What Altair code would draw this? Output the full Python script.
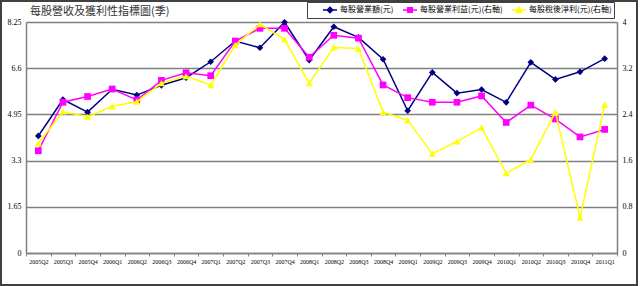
import altair as alt
import pandas as pd

quarters = ["2005Q2", "2005Q3", "2005Q4", "2006Q1", "2006Q2", "2006Q3", "2006Q4",
            "2007Q1", "2007Q2", "2007Q3", "2007Q4", "2008Q1", "2008Q2", "2008Q3",
            "2008Q4", "2009Q1", "2009Q2", "2009Q3", "2009Q4", "2010Q1", "2010Q2",
            "2010Q3", "2010Q4", "2011Q1"]
revenue = [4.18, 5.48, 5.03, 5.85, 5.64, 5.99, 6.26, 6.83, 7.57, 7.33, 8.24, 6.89,
           8.08, 7.70, 6.92, 5.08, 6.45, 5.71, 5.84, 5.38, 6.81, 6.20, 6.47, 6.94]
op_income = [1.77, 2.61, 2.71, 2.84, 2.65, 2.99, 3.12, 3.07, 3.67, 3.89, 3.89, 3.39,
             3.77, 3.72, 2.91, 2.69, 2.61, 2.61, 2.72, 2.26, 2.56, 2.32, 2.01, 2.14]
net_income = [1.90, 2.45, 2.36, 2.54, 2.62, 2.94, 3.06, 2.91, 3.60, 3.96, 3.70, 2.94,
              3.56, 3.54, 2.44, 2.30, 1.72, 1.93, 2.17, 1.38, 1.62, 2.44, 0.61, 2.57]
series_names = ["每股營業額(元)", "每股營業利益(元)(右軸)", "每股稅後淨利(元)(右軸)"]
series_colors = ["#000080", "#FF00FF", "#FFFF00"]
left_ticks = [0, 1.65, 3.3, 4.95, 6.6, 8.25]
right_ticks = [0, 0.8, 1.6, 2.4, 3.2, 4]

df = pd.DataFrame({"quarter": quarters, "revenue": revenue,
                   "op": op_income, "net": net_income})

GRID = "#808080"
x_enc = alt.X("quarter:N", sort=quarters,
              scale=alt.Scale(type="band", paddingInner=0, paddingOuter=0),
              axis=alt.Axis(title=None, labelAngle=0, labelFontSize=6,
                            labelFont="Liberation Serif", labelColor="#000000",
                            tickBand="extent", tickSize=3, tickColor=GRID,
                            domainColor=GRID, domainWidth=1.5, labelPadding=2,
                            grid=False))

left_axis = alt.Axis(title=None, values=left_ticks, labelExpr="datum.value + ''",
                     grid=True, gridColor=GRID, gridWidth=1.5, tickSize=0,
                     labelPadding=5, labelFontSize=8, labelFont="Liberation Serif",
                     labelColor="#000000", domainColor=GRID, domainWidth=1.5)
right_axis = alt.Axis(title=None, orient="right", values=right_ticks,
                      labelExpr="datum.value + ''", grid=False, tickSize=0,
                      labelPadding=5, labelFontSize=8, labelFont="Liberation Serif",
                      labelColor="#000000", domainColor=GRID, domainWidth=1.5)
left_scale = alt.Scale(domain=[0, 8.25], nice=False, zero=True)
right_scale = alt.Scale(domain=[0, 4], nice=False, zero=True)

base = alt.Chart(df)

navy_line = base.mark_line(color=series_colors[0], strokeWidth=1.5).encode(
    x=x_enc, y=alt.Y("revenue:Q", scale=left_scale, axis=left_axis))
navy_pts = base.mark_point(shape="diamond", filled=True, size=45, opacity=1,
                           color=series_colors[0]).encode(
    x=x_enc, y=alt.Y("revenue:Q", scale=left_scale, axis=left_axis))
left_layer = alt.layer(navy_line, navy_pts)

mag_line = base.mark_line(color=series_colors[1], strokeWidth=1.5).encode(
    x=x_enc, y=alt.Y("op:Q", scale=right_scale, axis=right_axis))
mag_pts = base.mark_point(shape="square", filled=True, size=45, opacity=1,
                          color=series_colors[1]).encode(
    x=x_enc, y=alt.Y("op:Q", scale=right_scale, axis=right_axis))
yel_line = base.mark_line(color=series_colors[2], strokeWidth=1.5).encode(
    x=x_enc, y=alt.Y("net:Q", scale=right_scale, axis=right_axis))
yel_pts = base.mark_point(shape="triangle-up", filled=True, size=50, opacity=1,
                          color=series_colors[2]).encode(
    x=x_enc, y=alt.Y("net:Q", scale=right_scale, axis=right_axis))
right_layer = alt.layer(mag_line, mag_pts, yel_line, yel_pts)

legend_paths = [
    "M-1.4,0L1.4,0M0,-0.55L0.55,0L0,0.55L-0.55,0Z",
    "M-1.4,0L1.4,0M-0.45,-0.45L0.45,-0.45L0.45,0.45L-0.45,0.45Z",
    "M-1.4,0L1.4,0M0,-0.55L0.55,0.45L-0.55,0.45Z",
]
leg_df = pd.DataFrame({"series": series_names})
legend_def = alt.Legend(title=None, orient="none", legendX=281, legendY=-20,
                        direction="horizontal", strokeColor="#404040",
                        padding=2, labelFontSize=8, labelFont="Noto Sans CJK TC",
                        labelColor="#000000", symbolSize=100, symbolOffset=15,
                        labelOffset=4, columnPadding=-5, labelLimit=300,
                        gridAlign="none",
                        symbolStrokeWidth=1.5, fillColor="#ffffff")
legend_layer = alt.Chart(leg_df).mark_point(filled=True, opacity=1).encode(
    fill=alt.Fill("series:N", sort=series_names,
                  scale=alt.Scale(domain=series_names, range=series_colors),
                  legend=legend_def),
    stroke=alt.Stroke("series:N", sort=series_names,
                      scale=alt.Scale(domain=series_names, range=series_colors),
                      legend=legend_def),
    shape=alt.Shape("series:N", sort=series_names,
                    scale=alt.Scale(domain=series_names, range=legend_paths),
                    legend=legend_def),
).transform_filter("false")

frame = alt.Chart(alt.Data(values=[{}])).mark_rect(
    fillOpacity=0, stroke="#404040", strokeWidth=2).encode(
    x=alt.value(-25), x2=alt.value(611), y=alt.value(-21), y2=alt.value(263))

chart = alt.layer(left_layer, right_layer, legend_layer, frame).resolve_scale(
    y="independent"
).properties(
    width=591, height=231,
    autosize=alt.AutoSizeParams(type="none"),
    padding={"left": 26, "top": 22, "right": 23, "bottom": 33},
    background="#ffffff",
    title=alt.TitleParams(text="每股營收及獲利性指標圖(季)", anchor="start",
                          frame="group", offset=0, dy=17, dx=4, fontSize=11,
                          fontWeight="normal", font="Noto Sans CJK TC",
                          color="#333333"),
).configure_view(fill="#f2f2f2", stroke="transparent")

chart.save("out.html", embed_options={"renderer": "svg", "actions": False})
